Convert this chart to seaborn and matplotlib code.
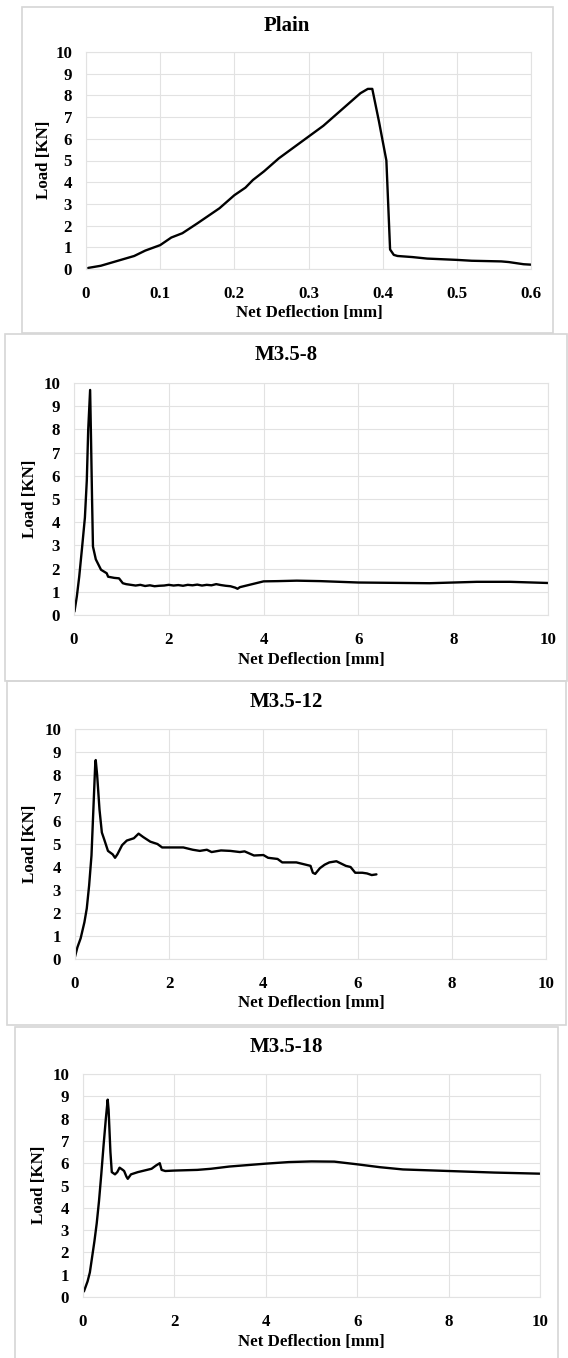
import numpy as np
import pandas as pd
import matplotlib
matplotlib.use("Agg")
import matplotlib.pyplot as plt
from matplotlib.patches import Rectangle
import seaborn as sns

# ---------------- data ----------------
plain_x = [0.003, 0.02, 0.04, 0.065, 0.08, 0.1, 0.115, 0.13, 0.15, 0.165, 0.18, 0.2, 0.215,
           0.225, 0.24, 0.26, 0.28, 0.3, 0.32, 0.34, 0.355, 0.37, 0.38, 0.386, 0.395, 0.405,
           0.41, 0.415, 0.42, 0.44, 0.46, 0.5, 0.52, 0.56, 0.57, 0.59, 0.6]
plain_y = [0.05, 0.15, 0.35, 0.6, 0.85, 1.1, 1.45, 1.65, 2.1, 2.45, 2.8, 3.4, 3.75,
           4.1, 4.5, 5.1, 5.6, 6.1, 6.6, 7.2, 7.65, 8.1, 8.3, 8.3, 6.8, 5.0,
           0.9, 0.65, 0.6, 0.55, 0.48, 0.42, 0.38, 0.35, 0.32, 0.22, 0.2]

m8_x = [0.01, 0.06, 0.11, 0.17, 0.23, 0.27, 0.3, 0.34, 0.36, 0.38, 0.4, 0.46, 0.57, 0.69,
        0.72, 0.85, 0.95, 1.03, 1.1, 1.2, 1.3, 1.4, 1.5, 1.6, 1.7, 1.8, 1.9, 2.0, 2.1, 2.2,
        2.3, 2.4, 2.5, 2.6, 2.7, 2.8, 2.9, 3.0, 3.1, 3.2, 3.3, 3.4, 3.45, 3.5, 3.6, 3.8,
        4.0, 4.3, 4.7, 5.2, 6.0, 7.0, 7.5, 8.0, 8.5, 9.2, 10.0]
m8_y = [0.15, 0.8, 1.65, 2.9, 4.2, 5.8, 8.0, 9.7, 7.5, 5.1, 2.95, 2.4, 1.95, 1.8,
        1.65, 1.6, 1.58, 1.37, 1.33, 1.3, 1.27, 1.3, 1.25, 1.28, 1.24, 1.26, 1.27, 1.3, 1.27, 1.29,
        1.26, 1.3, 1.28, 1.31, 1.27, 1.3, 1.28, 1.33, 1.29, 1.26, 1.24, 1.18, 1.13, 1.2, 1.25, 1.35,
        1.45, 1.46, 1.48, 1.46, 1.4, 1.38, 1.37, 1.4, 1.43, 1.43, 1.38]

m12_x = [0.0, 0.05, 0.12, 0.2, 0.25, 0.3, 0.35, 0.4, 0.43, 0.44, 0.47, 0.52, 0.57, 0.62,
         0.7, 0.8, 0.85, 0.9, 1.0, 1.1, 1.25, 1.35, 1.45, 1.6, 1.75, 1.85, 2.0, 2.3, 2.5,
         2.65, 2.8, 2.9, 3.1, 3.3, 3.5, 3.6, 3.8, 4.0, 4.1, 4.3, 4.4, 4.7, 4.9, 5.0, 5.05,
         5.1, 5.2, 5.3, 5.4, 5.55, 5.65, 5.75, 5.85, 5.95, 6.1, 6.2, 6.3, 6.4]
m12_y = [0.1, 0.5, 0.9, 1.6, 2.2, 3.2, 4.5, 7.0, 8.5, 8.65, 8.0, 6.5, 5.5, 5.2,
         4.7, 4.55, 4.4, 4.55, 4.95, 5.15, 5.25, 5.45, 5.3, 5.1, 5.0, 4.85, 4.85, 4.85, 4.75,
         4.7, 4.75, 4.65, 4.72, 4.7, 4.65, 4.68, 4.5, 4.52, 4.4, 4.35, 4.2, 4.2, 4.1, 4.05, 3.75,
         3.7, 3.95, 4.1, 4.2, 4.25, 4.15, 4.05, 4.0, 3.75, 3.75, 3.72, 3.65, 3.68]

m18_x = [0.02, 0.1, 0.15, 0.2, 0.25, 0.3, 0.35, 0.4, 0.45, 0.5, 0.54, 0.56, 0.6, 0.63,
         0.7, 0.75, 0.8, 0.87, 0.9, 0.95, 0.98, 1.05, 1.2, 1.3, 1.5, 1.6, 1.68, 1.72, 1.8,
         2.0, 2.5, 2.8, 3.2, 4.0, 4.5, 5.0, 5.5, 6.0, 6.5, 7.0, 8.0, 9.0, 10.0]
m18_y = [0.25, 0.7, 1.1, 1.8, 2.5, 3.3, 4.3, 5.5, 6.8, 8.0, 8.85, 8.4, 6.5, 5.6,
         5.5, 5.6, 5.8, 5.7, 5.65, 5.4, 5.3, 5.5, 5.6, 5.65, 5.75, 5.9, 6.0, 5.7, 5.65,
         5.67, 5.7, 5.75, 5.85, 5.98, 6.05, 6.08, 6.07, 5.95, 5.82, 5.72, 5.65, 5.58, 5.53]

titles = ["Plain", "M3.5-8", "M3.5-12", "M3.5-18"]
x_ticks = [[0, 0.1, 0.2, 0.3, 0.4, 0.5, 0.6], [0, 2, 4, 6, 8, 10],
           [0, 2, 4, 6, 8, 10], [0, 2, 4, 6, 8, 10]]
x_ticklabels = [["0", "0.1", "0.2", "0.3", "0.4", "0.5", "0.6"],
                ["0", "2", "4", "6", "8", "10"],
                ["0", "2", "4", "6", "8", "10"],
                ["0", "2", "4", "6", "8", "10"]]
y_ticks = list(range(0, 11))
x_label = "Net Deflection [mm]"
y_label = "Load [KN]"

series = [(plain_x, plain_y), (m8_x, m8_y), (m12_x, m12_y), (m18_x, m18_y)]

# ---------------- layout (pixels) ----------------
W, H = 568, 1358
panels = [
    dict(ax=(86, 531, 52, 269), box=(22, 7, 553, 333), title=(287, 26), xl=(309, 313), yl=(44, 160)),
    dict(ax=(74, 548, 383, 615), box=(5, 334, 567, 681), title=(286, 355), xl=(311, 660), yl=(30, 499)),
    dict(ax=(75, 546, 729, 959), box=(7, 681, 566, 1025), title=(286, 702), xl=(311, 1003), yl=(30, 844)),
    dict(ax=(83, 540, 1074, 1297), box=(15, 1027, 558, 1362), title=(286, 1047), xl=(311, 1342), yl=(39, 1185)),
]

sns.set_theme(style="whitegrid")
plt.rcParams["font.family"] = ["Liberation Serif", "DejaVu Serif"]
plt.rcParams["font.weight"] = "bold"

fig = plt.figure(figsize=(W / 100, H / 100), dpi=100)
fig.patch.set_facecolor("white")

gridc = "#e2e2e2"
fs = 12.2
for i, p in enumerate(panels):
    bx0, by0, bx1, by1 = p["box"]
    fig.patches.append(Rectangle((bx0 / W, 1 - by1 / H), (bx1 - bx0) / W, (by1 - by0) / H,
                                 transform=fig.transFigure, facecolor="none",
                                 edgecolor="#d6d6d6", linewidth=1.2, zorder=-1))
    x0, x1, yt, yb = p["ax"]
    ax = fig.add_axes([x0 / W, 1 - yb / H, (x1 - x0) / W, (yb - yt) / H], zorder=2)
    ax.set_facecolor("none")
    xs, ys = series[i]
    df = pd.DataFrame({"x": xs, "y": ys})
    sns.lineplot(data=df, x="x", y="y", ax=ax, color="black", linewidth=1.7,
                 sort=False, estimator=None)
    ax.set_xlim(x_ticks[i][0], x_ticks[i][-1])
    ax.set_ylim(0, 10)
    ax.set_xticks(x_ticks[i])
    ax.set_xticklabels(x_ticklabels[i])
    ax.set_yticks(y_ticks)
    ax.set_yticklabels([str(v) for v in y_ticks])
    ax.grid(True, color=gridc, linewidth=0.8)
    for s in ax.spines.values():
        s.set_color(gridc)
        s.set_linewidth(0.8)
    ax.tick_params(axis="both", length=0, labelsize=fs, colors="black")
    ax.tick_params(axis="y", pad=10)
    ax.tick_params(axis="x", pad=12)
    for lab in ax.get_xticklabels() + ax.get_yticklabels():
        lab.set_fontweight("bold")

    ax.set_xlabel(x_label, fontsize=fs, fontweight="bold", color="black")
    ax.set_ylabel(y_label, fontsize=fs, fontweight="bold", color="black")
    ax.xaxis.label.set_va("center")
    ax.yaxis.label.set_va("center")
    xlx, xly = p["xl"]
    ax.xaxis.set_label_coords((xlx - x0) / (x1 - x0), (yb - xly) / (yb - yt))
    ylx, yly = p["yl"]
    ax.yaxis.set_label_coords((ylx - x0) / (x1 - x0), (yb - yly) / (yb - yt))

    tx, ty = p["title"]
    fig.text(tx / W, 1 - ty / H, titles[i], ha="center", va="center",
             fontsize=15, fontweight="bold", color="black")

fig.savefig("out.png", dpi=100, facecolor="white")
